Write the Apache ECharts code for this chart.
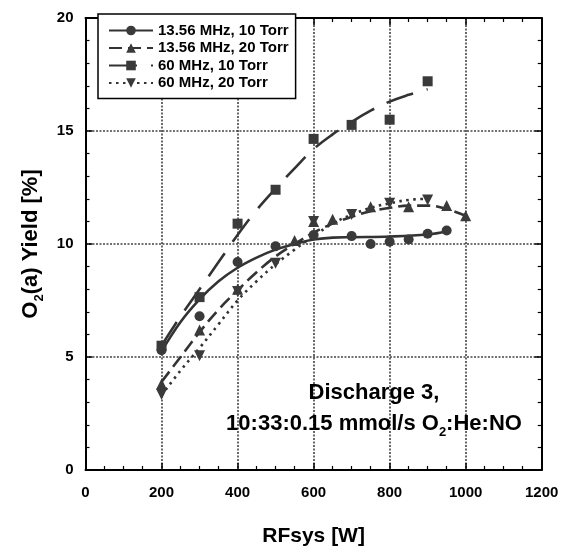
<!DOCTYPE html>
<html>
<head>
<meta charset="utf-8">
<script src="https://cdn.jsdelivr.net/npm/echarts@6/dist/echarts.min.js"></script>
<style>
  html, body { margin: 0; padding: 0; background: #fff; }
  #chart { width: 564px; height: 552px; }
</style>
</head>
<body>
<div id="chart"></div>
<script>
// Series names
const seriesNames = ['13.56 MHz, 10 Torr', '13.56 MHz, 20 Torr', '60 MHz, 10 Torr', '60 MHz, 20 Torr'];

// Axis ticks
const xTicks = [0, 200, 400, 600, 800, 1000, 1200];
const yTicks = [0, 5, 10, 15, 20];

// Measured points: RF power [W] and O2(a) yield [%]
const power1356_10 = [200, 300, 400, 500, 600, 700, 750, 800, 850, 900, 950];
const yield1356_10 = [5.3, 6.8, 9.2, 9.9, 10.4, 10.35, 10.0, 10.1, 10.2, 10.45, 10.6];

const power1356_20 = [200, 300, 400, 550, 600, 650, 750, 850, 950, 1000];
const yield1356_20 = [3.8, 6.2, 8.0, 10.15, 11.0, 11.1, 11.65, 11.65, 11.7, 11.25];

const power60_10 = [200, 300, 400, 500, 600, 700, 800, 900];
const yield60_10 = [5.5, 7.65, 10.9, 12.4, 14.65, 15.27, 15.5, 17.2];

const power60_20 = [200, 300, 400, 500, 600, 700, 800, 900];
const yield60_20 = [3.35, 5.05, 7.9, 9.15, 11.0, 11.3, 11.8, 11.95];

// Fitted trend curves
const fitPower1356_10 = [200, 250, 300, 350, 400, 450, 500, 550, 600, 650, 700, 800, 900, 950];
const fitYield1356_10 = [5.25, 6.55, 7.55, 8.35, 8.95, 9.4, 9.75, 10.0, 10.2, 10.28, 10.3, 10.33, 10.42, 10.55];

const fitPower1356_20 = [200, 250, 300, 350, 400, 450, 500, 550, 600, 650, 700, 750, 800, 850, 900, 950, 1000];
const fitYield1356_20 = [3.9, 5.0, 6.1, 7.1, 7.95, 8.75, 9.45, 10.0, 10.5, 10.9, 11.2, 11.45, 11.6, 11.7, 11.7, 11.55, 11.25];

const fitPower60_10 = [200, 250, 300, 350, 400, 450, 500, 550, 600, 650, 700, 750, 800, 850, 900];
const fitYield60_10 = [5.5, 6.8, 8.0, 9.2, 10.4, 11.5, 12.45, 13.35, 14.2, 14.85, 15.4, 15.9, 16.3, 16.6, 16.85];

const fitPower60_20 = [200, 250, 300, 350, 400, 450, 500, 550, 600, 650, 700, 750, 800, 850, 900];
const fitYield60_20 = [3.3, 4.4, 5.4, 6.45, 7.5, 8.35, 9.1, 9.75, 10.35, 10.9, 11.3, 11.6, 11.8, 11.95, 12.0];

const FONT = 'Liberation Sans, Arial, Helvetica, sans-serif';
const LINE = '#333333';
const MARK = '#3a3a3a';

function pairs(xs, ys) { return xs.map((x, i) => [x, ys[i]]); }

const chart = echarts.init(document.getElementById('chart'), null, { renderer: 'canvas' });

const tickStyle = { show: true, inside: true, length: 7, lineStyle: { color: '#000', width: 1.5 } };
const minorStyle = { show: true, length: 4, lineStyle: { color: '#000', width: 1.2 } };
const gridLine = { show: true, lineStyle: { color: '#444', width: 1.6, type: [2, 1.5] } };
const plainNumber = v => String(v);

const styles = [
  { symbol: 'circle', rotate: 0, type: 'solid', size: 10 },
  { symbol: 'triangle', rotate: 0, type: [13, 6], size: 11 },
  { symbol: 'rect', rotate: 0, type: [28, 14], size: 10 },
  { symbol: 'triangle', rotate: 180, type: [2.5, 4.5], size: 11 }
];
const fits = [
  pairs(fitPower1356_10, fitYield1356_10),
  pairs(fitPower1356_20, fitYield1356_20),
  pairs(fitPower60_10, fitYield60_10),
  pairs(fitPower60_20, fitYield60_20)
];
const points = [
  pairs(power1356_10, yield1356_10),
  pairs(power1356_20, yield1356_20),
  pairs(power60_10, yield60_10),
  pairs(power60_20, yield60_20)
];

const series = [];
// trend lines first so that the legend picks up their line style
seriesNames.forEach((name, i) => {
  series.push({
    name: name, type: 'line', smooth: 0.4, data: fits[i],
    symbol: styles[i].symbol, symbolRotate: styles[i].rotate, symbolSize: styles[i].size,
    showSymbol: false, silent: true,
    itemStyle: { color: MARK },
    lineStyle: { color: LINE, width: 2.6, type: styles[i].type },
    z: 2
  });
});
seriesNames.forEach((name, i) => {
  series.push({
    name: name, type: 'scatter', data: points[i],
    symbol: styles[i].symbol, symbolRotate: styles[i].rotate, symbolSize: styles[i].size,
    itemStyle: { color: MARK, opacity: 1 },
    z: 3
  });
});

const subStyle = { fontFamily: FONT, fontWeight: 'bold', fontSize: 13, color: '#000', lineHeight: 14, verticalAlign: 'bottom' };

chart.setOption({
  animation: false,
  backgroundColor: '#fff',
  textStyle: { fontFamily: FONT },
  grid: { left: 85.5, right: 22.3, top: 18, bottom: 78.7, containLabel: false },
  legend: {
    orient: 'vertical', left: 98, top: 14,
    data: seriesNames,
    itemWidth: 44, itemHeight: 12, itemGap: 2.5,
    padding: [9, 7, 8, 10],
    backgroundColor: '#fff', borderColor: '#000', borderWidth: 1.5,
    textStyle: { fontFamily: FONT, fontWeight: 'bold', fontSize: 15, color: '#000' },
    selectedMode: false
  },
  xAxis: [
    {
      type: 'value', position: 'bottom', min: xTicks[0], max: xTicks[xTicks.length - 1], interval: 200,
      name: 'RFsys [W]', nameLocation: 'middle', nameGap: 56,
      nameTextStyle: { fontFamily: FONT, fontWeight: 'bold', fontSize: 21, color: '#000' },
      axisLine: { show: true, onZero: false, lineStyle: { color: '#000', width: 2 } },
      axisTick: tickStyle, minorTick: Object.assign({ splitNumber: 4 }, minorStyle),
      axisLabel: { fontFamily: FONT, fontWeight: 'bold', fontSize: 15, color: '#000', margin: 15, formatter: plainNumber },
      splitLine: gridLine
    },
    {
      type: 'value', position: 'top', min: 0, max: 1200, interval: 200,
      axisLine: { show: true, onZero: false, lineStyle: { color: '#000', width: 2 } },
      axisTick: tickStyle, minorTick: Object.assign({ splitNumber: 4 }, minorStyle),
      axisLabel: { show: false }, splitLine: { show: false }
    }
  ],
  yAxis: [
    {
      type: 'value', position: 'left', min: yTicks[0], max: yTicks[yTicks.length - 1], interval: 5,
      name: 'O{sub|2}(a) Yield [%]', nameLocation: 'middle', nameGap: 38,
      nameTextStyle: {
        fontFamily: FONT, fontWeight: 'bold', fontSize: 22, color: '#000', lineHeight: 30,
        rich: { sub: subStyle }
      },
      axisLine: { show: true, onZero: false, lineStyle: { color: '#000', width: 2 } },
      axisTick: tickStyle, minorTick: Object.assign({ splitNumber: 5 }, minorStyle),
      axisLabel: { fontFamily: FONT, fontWeight: 'bold', fontSize: 15, color: '#000', margin: 12, formatter: plainNumber },
      splitLine: gridLine
    },
    {
      type: 'value', position: 'right', min: 0, max: 20, interval: 5,
      axisLine: { show: true, onZero: false, lineStyle: { color: '#000', width: 2 } },
      axisTick: tickStyle, minorTick: Object.assign({ splitNumber: 5 }, minorStyle),
      axisLabel: { show: false }, splitLine: { show: false }
    }
  ],
  graphic: [
    {
      type: 'text', x: 374, y: 393, z: 10,
      style: {
        text: 'Discharge 3,', fill: '#000',
        font: 'bold 22px ' + FONT, textAlign: 'center', textVerticalAlign: 'middle'
      }
    },
    {
      type: 'text', x: 374, y: 424, z: 10,
      style: {
        text: '10:33:0.15 mmol/s O{sub|2}:He:NO', fill: '#000',
        font: 'bold 22px ' + FONT, textAlign: 'center', textVerticalAlign: 'middle', lineHeight: 30,
        rich: { sub: { font: 'bold 13px ' + FONT, fill: '#000', lineHeight: 14, verticalAlign: 'bottom' } }
      }
    }
  ],
  series: series
});
</script>
</body>
</html>
